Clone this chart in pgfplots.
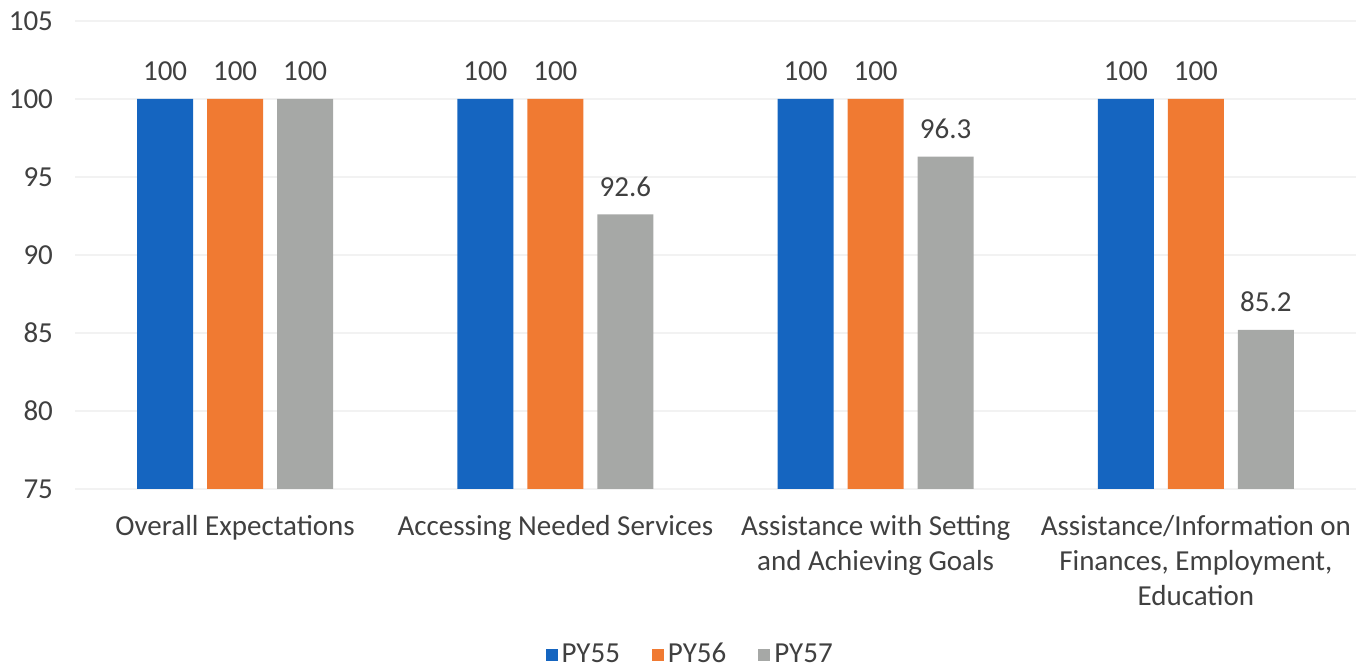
\documentclass[border=0pt]{standalone}
\usepackage{fontspec}
\setmainfont{Carlito}
\usepackage{pgfplots}
\pgfplotsset{compat=1.18}
\definecolor{cblue}{RGB}{21,101,192}
\definecolor{corange}{RGB}{240,122,50}
\definecolor{cgray}{RGB}{166,168,166}
\definecolor{ctext}{RGB}{64,64,64}
\begin{document}
\begin{tikzpicture}
\fontsize{14.5}{17.5}\selectfont
\begin{axis}[
  at={(37.5pt,89.5pt)}, anchor=south west,
  width=640.5pt, height=234pt, scale only axis,
  ymin=75, ymax=105, ytick={75,80,...,105},
  xmin=-0.5, xmax=3.5,
  xtick={0,1,2,3},
  xticklabels={Overall Expectations,Accessing Needed Services,{Assistance with Setting\\and Achieving Goals},{Assistance/Information on\\Finances, Employment,\\Education}},
  xticklabel style={align=center, font=\fontsize{14.5}{17.5}\selectfont, text=ctext, yshift=-8pt},
  yticklabel style={font=\fontsize{14.5}{17.5}\selectfont, text=ctext, xshift=-6pt},
  /pgf/number format/assume math mode=true,
  axis line style={draw=none},
  major tick length=0pt,
  ymajorgrids, grid style={draw=black!5, line width=0.8pt},
  ybar=7pt, bar width=28pt,
  nodes near coords,
  every node near coord/.append style={font=\fontsize{14.5}{17.5}\selectfont, text=ctext, yshift=4pt},
  legend style={at={(0.481,-0.3555)}, anchor=center, draw=none, legend columns=3, font=\fontsize{14.5}{17.5}\selectfont, text=ctext, /tikz/every even column/.append style={column sep=14pt}},
  legend image code/.code={\fill[#1] (0pt,-3pt) rectangle (6pt,3pt);},
  clip=false,
]
\addplot[fill=cblue, draw=none] coordinates {(0,100) (1,100) (2,100) (3,100)};
\addplot[fill=corange, draw=none] coordinates {(0,100) (1,100) (2,100) (3,100)};
\addplot[fill=cgray, draw=none] coordinates {(0,100) (1,92.6) (2,96.3) (3,85.2)};
\legend{PY55,PY56,PY57}
\end{axis}
\pgfresetboundingbox
\path[use as bounding box] (0,0) rectangle (684.5pt,334pt);
\end{tikzpicture}
\end{document}
